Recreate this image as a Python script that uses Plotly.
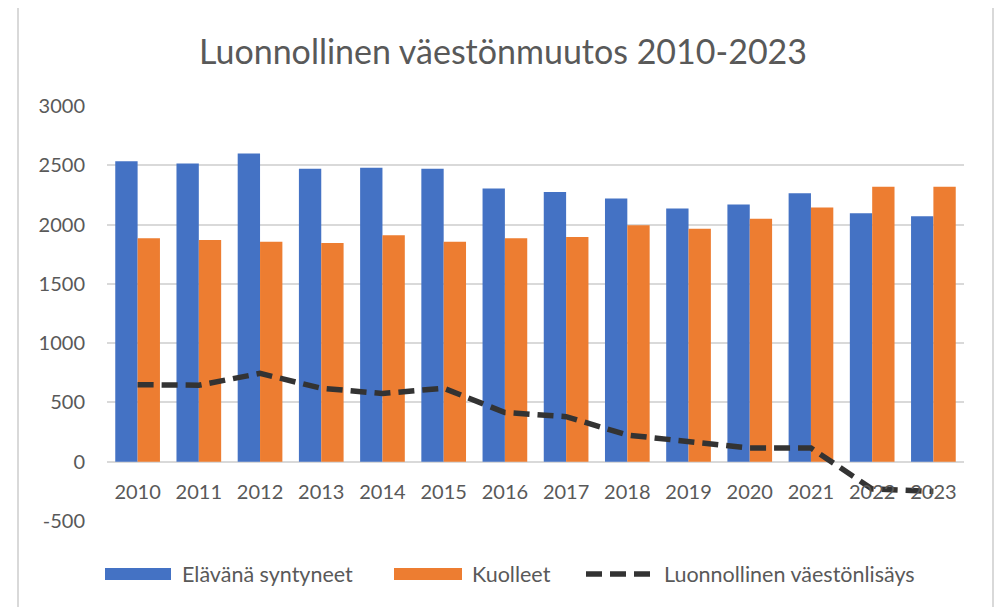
import plotly.graph_objects as go

years = ["2010", "2011", "2012", "2013", "2014", "2015", "2016",
         "2017", "2018", "2019", "2020", "2021", "2022", "2023"]
births = [2535, 2515, 2600, 2470, 2480, 2470, 2305,
          2275, 2220, 2135, 2170, 2265, 2095, 2070]
deaths = [1885, 1870, 1855, 1845, 1910, 1855, 1885,
          1895, 1995, 1965, 2050, 2145, 2320, 2320]
natural_growth = [650, 645, 745, 620, 575, 620, 415,
                  380, 225, 170, 115, 115, -230, -250]

name_births = "Elävänä syntyneet"
name_deaths = "Kuolleet"
name_growth = "Luonnollinen väestönlisäys"
title_text = "Luonnollinen väestönmuutos 2010-2023"
y_ticks = [-500, 0, 500, 1000, 1500, 2000, 2500, 3000]
y_tick_labels = ["-500", "0", "500", "1000", "1500", "2000", "2500", "3000"]

BLUE = "#4472C4"
ORANGE = "#ED7D31"
DARK = "#333333"
TEXT = "#595959"
GRID = "#D9D9D9"
FONT = "Lato"

W, H = 1003, 607
OFF = 8  # page body margin offset
PL, PR, PT, PB = 107 - OFF, 964 - OFF, 106 - OFF, 521 - OFF  # plot area


def px_x(p):
    return (p - OFF - PL) / (PR - PL)


def px_y(p):
    return (PB - (p - OFF)) / (PB - PT)


fig = go.Figure()
fig.add_trace(go.Bar(x=years, y=births, name=name_births,
                     marker=dict(color=BLUE, line=dict(width=0)),
                     showlegend=False))
fig.add_trace(go.Bar(x=years, y=deaths, name=name_deaths,
                     marker=dict(color=ORANGE, line=dict(width=0)),
                     showlegend=False))
fig.add_trace(go.Scatter(x=years, y=natural_growth, name=name_growth,
                         mode="lines",
                         line=dict(color=DARK, width=5.5, dash="16px,8px"),
                         showlegend=False))

shapes = []
annotations = []
# chart border
shapes.append(dict(type="rect", xref="paper", yref="paper",
                   x0=px_x(18), x1=px_x(993), y0=px_y(640), y1=px_y(7),
                   line=dict(color=GRID, width=2), fillcolor="rgba(0,0,0,0)",
                   layer="below"))

# manual legend
leg_y = 574
legend_items = [
    ("rect", BLUE, name_births, 105, 171, 180),
    ("rect", ORANGE, name_deaths, 394, 462, 470),
    ("line", DARK, name_growth, 586, 655, 662),
]
for kind, col, label, x0, x1, tx in legend_items:
    if kind == "rect":
        shapes.append(dict(type="rect", xref="paper", yref="paper",
                           x0=px_x(x0), x1=px_x(x1),
                           y0=px_y(leg_y + 6), y1=px_y(leg_y - 6),
                           fillcolor=col, line=dict(width=0)))
    else:
        shapes.append(dict(type="line", xref="paper", yref="paper",
                           x0=px_x(x0), x1=px_x(x1),
                           y0=px_y(leg_y), y1=px_y(leg_y),
                           line=dict(color=col, width=5.5, dash="16px,8px")))
    annotations.append(dict(text=label, xref="paper", yref="paper",
                            x=px_x(tx), y=px_y(leg_y), xanchor="left",
                            yanchor="middle", showarrow=False,
                            font=dict(family=FONT, size=21.5, color=TEXT)))

fig.update_layout(
    width=W, height=H,
    margin=dict(l=PL, r=W - PR, t=PT, b=H - PB),
    paper_bgcolor="white", plot_bgcolor="white",
    barmode="group", bargap=0.27, bargroupgap=0.0,
    title=dict(text=title_text, x=(503 - OFF) / W, xref="container",
               xanchor="center",
               y=1 - (52 - OFF) / H, yref="container", yanchor="middle",
               font=dict(family=FONT, size=34, color=TEXT)),
    font=dict(family=FONT, size=20, color=TEXT),
    shapes=shapes, annotations=annotations,
    showlegend=False,
    xaxis=dict(type="category", anchor="free",
               position=500 / 3500,
               showgrid=False, showline=False, zeroline=False,
               ticks="outside", ticklen=12, tickcolor="rgba(0,0,0,0)",
               tickfont=dict(family=FONT, size=20, color=TEXT)),
    yaxis=dict(range=[-500, 3000], tickvals=y_ticks, ticktext=y_tick_labels,
               showgrid=True, gridcolor=GRID, gridwidth=2,
               zeroline=True, zerolinecolor=GRID, zerolinewidth=2,
               showline=False,
               ticks="outside", ticklen=17, tickcolor="rgba(0,0,0,0)",
               tickfont=dict(family=FONT, size=20, color=TEXT)),
)

fig.write_html("out.html")
